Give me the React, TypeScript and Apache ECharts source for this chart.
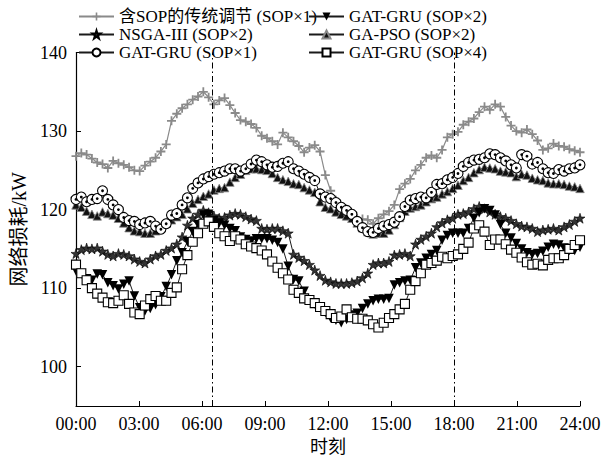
import React, { useEffect, useRef } from 'react';
import * as echarts from 'echarts';

// ---- data (96 samples over 00:00-24:00) ----
const xTickHours = [0, 3, 6, 9, 12, 15, 18, 21, 24];
const yTickValues = [100, 110, 120, 130, 140];
const dividerHours = [6.5, 18];

const seriesNames = [
  '含SOP的传统调节 (SOP×1)',
  'GAT-GRU (SOP×2)',
  'NSGA-III (SOP×2)',
  'GA-PSO (SOP×2)',
  'GAT-GRU (SOP×1)',
  'GAT-GRU (SOP×4)',
];

const traditional = [
  126.8, 127.2, 127.0, 126.5, 126.0, 125.8, 125.3, 126.2, 125.9, 125.7, 125.4, 125.0,
  124.9, 125.6, 126.1, 126.6, 127.4, 128.3, 131.3, 132.2, 132.9, 133.4, 134.0, 134.4,
  135.0, 134.3, 133.4, 133.9, 134.2, 133.3, 132.3, 131.4, 131.2, 130.9, 130.4, 129.4,
  129.1, 128.7, 128.3, 129.8, 129.2, 128.7, 128.1, 127.3, 127.9, 128.2, 127.4, 124.4,
  122.4, 121.2, 120.2, 119.6, 119.1, 118.9, 118.8, 118.7, 118.2, 118.9, 119.4, 119.8,
  120.6, 122.6, 123.3, 123.9, 125.0, 125.7, 126.6, 126.9, 126.6, 127.6, 129.2, 129.6,
  129.9, 130.8, 131.2, 131.6, 132.4, 133.1, 132.7, 133.4, 133.1, 131.8, 130.7, 130.0,
  129.8, 130.2, 129.6, 128.8, 127.6, 127.8, 128.4, 128.1, 128.0, 127.7, 127.5, 127.3,
];

const gatGru2 = [
  112.2, 111.8, 111.2, 111.0, 111.8, 111.7, 110.7, 110.3, 109.9, 110.5, 110.9, 109.0,
  107.5, 107.1, 107.4, 107.9, 108.9, 110.2, 111.7, 113.5, 114.5, 115.9, 117.2, 118.1,
  119.3, 119.4, 118.6, 118.3, 118.0, 117.6, 117.3, 116.5, 116.2, 116.0, 116.3, 116.3,
  116.3, 116.1, 115.8, 115.0, 112.8, 111.1, 110.9, 109.6, 108.5, 108.0, 107.5, 106.9,
  106.2, 105.9, 105.6, 106.0, 106.6, 106.8, 107.4, 108.0, 108.4, 108.6, 108.6, 108.7,
  110.4, 110.7, 110.9, 111.0, 112.6, 113.2, 113.8, 114.3, 114.8, 116.1, 116.7, 117.0,
  117.0, 117.0, 117.6, 118.9, 119.6, 120.1, 119.9, 119.3, 118.1, 117.0, 116.4, 115.7,
  115.0, 114.5, 114.3, 114.4, 114.7, 115.2, 115.6, 115.5, 115.1, 114.8, 114.8, 115.2,
];

const nsga3 = [
  114.4, 114.9, 115.1, 115.0, 115.1, 114.7, 114.3, 114.1, 114.4, 114.3, 114.1, 113.7,
  113.4, 113.2, 113.7, 114.1, 114.3, 114.8, 115.1, 115.6, 116.5, 118.0, 118.9, 119.4,
  119.9, 119.6, 119.2, 118.9, 119.0, 119.3, 119.5, 119.4, 119.1, 118.8, 118.6, 117.6,
  117.5, 117.6, 117.6, 117.3, 117.0, 114.3, 113.9, 113.5, 113.0, 112.3, 111.6, 111.0,
  110.8, 110.6, 110.6, 110.6, 110.7, 110.9, 111.3, 111.9, 113.0, 113.2, 113.2, 113.4,
  114.2, 114.3, 114.4, 114.1, 115.6, 116.2, 116.6, 117.0, 117.8, 118.3, 118.7, 118.9,
  119.4, 119.5, 119.7, 120.1, 120.4, 120.1, 119.7, 119.4, 119.1, 118.9, 118.6, 118.2,
  117.9, 117.8, 117.6, 117.2, 117.4, 117.5, 117.6, 117.4, 117.8, 118.1, 118.5, 118.9,
];

const gaPso = [
  120.6, 120.3, 119.8, 119.4, 119.2, 119.7, 119.5, 119.3, 118.9, 118.3, 117.7, 117.3,
  117.2, 117.0, 117.0, 117.3, 117.8, 118.3, 118.7, 119.1, 119.4, 120.1, 120.8, 121.3,
  121.7, 122.0, 122.5, 122.7, 122.8, 123.5, 124.1, 124.5, 125.0, 125.2, 125.2, 125.1,
  125.0, 124.6, 124.1, 123.8, 123.6, 123.3, 123.2, 122.8, 122.5, 122.2, 121.0, 120.3,
  120.1, 119.7, 119.4, 119.2, 118.9, 118.3, 117.7, 117.2, 116.9, 117.0, 117.0, 117.4,
  118.1, 119.0, 119.8, 120.2, 120.4, 120.6, 121.0, 121.4, 121.6, 122.0, 122.3, 122.7,
  123.1, 123.7, 124.1, 124.7, 125.1, 125.4, 125.3, 125.2, 124.9, 124.8, 124.7, 124.2,
  124.5, 124.4, 124.0, 123.8, 123.7, 123.4, 123.3, 123.3, 123.2, 123.0, 122.9, 122.7,
];

const gatGru1 = [
  121.3, 121.6, 121.0, 121.3, 121.4, 122.4, 121.3, 120.6, 120.0, 119.0, 118.6, 118.5,
  118.1, 118.3, 118.5, 117.9, 117.5, 118.2, 119.3, 119.5, 120.6, 121.5, 122.7, 123.4,
  123.9, 124.2, 124.5, 124.7, 124.9, 125.2, 125.2, 124.9, 125.2, 125.8, 126.3, 126.1,
  125.7, 125.4, 125.5, 125.9, 126.1, 125.2, 124.9, 124.5, 124.1, 123.7, 122.0, 121.6,
  121.4, 120.9, 120.3, 119.9, 119.4, 118.5, 117.7, 117.2, 117.1, 117.6, 117.9, 118.1,
  118.4, 119.1, 120.4, 121.2, 121.4, 121.6, 121.5, 122.2, 123.2, 123.3, 123.8, 124.1,
  124.6, 125.5, 126.0, 126.3, 126.4, 126.6, 127.1, 127.0, 126.6, 126.2, 125.7, 125.3,
  127.0, 126.8, 125.8, 126.0, 125.2, 124.7, 124.6, 125.1, 124.9, 125.2, 125.3, 125.7,
];

const gatGru4 = [
  113.0, 111.9, 111.0, 110.0, 109.3, 108.8, 108.2, 108.1, 108.4, 109.1, 108.0, 106.9,
  106.7, 107.8, 108.6, 109.0, 108.4, 108.4, 109.4, 110.1, 112.4, 114.2, 115.9, 117.0,
  118.2, 118.5, 117.8, 117.0, 116.6, 116.0, 116.6, 116.2, 115.6, 115.3, 115.1, 114.8,
  114.3, 113.4, 112.6, 111.9, 111.1, 109.8, 109.4, 108.7, 108.5, 108.1, 107.6, 107.1,
  106.7, 106.2, 106.4, 107.3, 106.3, 106.1, 106.1, 105.9, 105.4, 105.0, 105.6, 106.2,
  106.7, 107.3, 108.0, 109.8, 110.9, 111.9, 113.0, 113.2, 113.5, 114.0, 113.8, 114.1,
  114.3, 115.0, 115.8, 117.6, 118.0, 117.2, 115.5, 116.2, 116.2, 115.6, 114.9, 114.5,
  113.9, 113.3, 113.0, 113.1, 112.9, 113.6, 113.8, 113.8, 114.2, 115.0, 115.5, 116.1,
];

// ---- styling ----
const FONT = "'Liberation Serif', 'Times New Roman', 'Noto Sans CJK SC', serif";
const PLUS = 'path://M4,0H6V4H10V6H6V10H4V6H0V4H4Z';
const STAR =
  'path://M50,0L61.2,34.5L97.6,34.5L68.2,55.9L79.4,90.5L50,69.1L20.6,90.5L31.8,55.9L2.4,34.5L38.8,34.5Z';

const toPairs = (vals: number[]) => vals.map((v, i) => [(i * 24) / (vals.length - 1), v]);
const pad = (n: number) => (n < 10 ? '0' + n : '' + n);

export default function App() {
  const ref = useRef<HTMLDivElement>(null);

  useEffect(() => {
    if (!ref.current) return;
    const chart = echarts.init(ref.current, undefined, { renderer: 'svg' });

    const lineStyle = { color: '#1a1a1a', width: 1 };

    const series: any[] = [
      {
        name: seriesNames[0],
        type: 'line',
        data: toPairs(traditional),
        symbol: PLUS,
        symbolSize: 9,
        itemStyle: { color: '#8a8a8a' },
        lineStyle: { color: '#8a8a8a', width: 1.2 },
        z: 2,
      },
      {
        name: seriesNames[3],
        type: 'line',
        data: toPairs(gaPso),
        symbol: 'triangle',
        symbolSize: 8.5,
        itemStyle: { color: '#111', borderColor: '#888', borderWidth: 0.8 },
        lineStyle,
        z: 3,
      },
      {
        name: seriesNames[4],
        type: 'line',
        data: toPairs(gatGru1),
        symbol: 'circle',
        symbolSize: 10,
        itemStyle: { color: '#fff', borderColor: '#000', borderWidth: 1.1 },
        lineStyle,
        z: 4,
      },
      {
        name: 'dot',
        type: 'line',
        data: toPairs(gatGru1),
        symbol: 'circle',
        symbolSize: 2.8,
        itemStyle: { color: '#000' },
        lineStyle: { width: 0, opacity: 0 },
        z: 5,
        silent: true,
      },
      {
        name: seriesNames[2],
        type: 'line',
        data: toPairs(nsga3),
        symbol: STAR,
        symbolSize: 10,
        itemStyle: { color: '#333', borderColor: '#000', borderWidth: 0.6 },
        lineStyle,
        z: 6,
      },
      {
        name: seriesNames[1],
        type: 'line',
        data: toPairs(gatGru2),
        symbol: 'triangle',
        symbolRotate: 180,
        symbolSize: 9.5,
        itemStyle: { color: '#000' },
        lineStyle,
        z: 7,
      },
      {
        name: seriesNames[5],
        type: 'line',
        data: toPairs(gatGru4),
        symbol: 'rect',
        symbolSize: 9,
        itemStyle: { color: '#fff', borderColor: '#000', borderWidth: 1.1 },
        lineStyle,
        z: 8,
        markLine: {
          silent: true,
          symbol: 'none',
          label: { show: false },
          lineStyle: { color: '#000', width: 1, type: [6, 3, 1.5, 3] },
          data: dividerHours.map((h) => ({ xAxis: h })),
        },
      },
    ];

    const legendPos = [
      { left: 78, top: 8 },
      { left: 308, top: 8 },
      { left: 78, top: 26 },
      { left: 308, top: 26 },
      { left: 78, top: 44 },
      { left: 308, top: 44 },
    ];
    const legend = seriesNames.map((name, i) => ({
      data: [name],
      left: legendPos[i].left,
      top: legendPos[i].top,
      padding: 0,
      itemWidth: 35,
      itemHeight: 10,
      itemGap: 4,
      selectedMode: false,
      textStyle: { fontFamily: FONT, fontSize: 17, color: '#000' },
    }));

    chart.setOption({
      animation: false,
      backgroundColor: '#fff',
      grid: { left: 76, right: 33, top: 52.5, bottom: 55 },
      legend,
      xAxis: {
        type: 'value',
        min: 0,
        max: 24,
        interval: 3,
        name: '时刻',
        nameLocation: 'middle',
        nameGap: 31,
        nameTextStyle: { fontFamily: FONT, fontSize: 18, color: '#000' },
        axisLine: { show: true, lineStyle: { color: '#000', width: 1.2 } },
        axisTick: { show: true, inside: true, length: 5, lineStyle: { color: '#000' } },
        axisLabel: {
          fontFamily: FONT,
          fontSize: 18,
          color: '#000',
          margin: 9,
          formatter: (v: number) => (xTickHours.includes(v) ? pad(v) + ':00' : ''),
        },
        splitLine: { show: false },
      },
      yAxis: {
        type: 'value',
        min: 95,
        max: 140,
        name: '网络损耗/kW',
        nameLocation: 'middle',
        nameGap: 42,
        nameRotate: 90,
        nameTextStyle: { fontFamily: FONT, fontSize: 20, color: '#000' },
        axisLine: { show: true, lineStyle: { color: '#000', width: 1.2 } },
        axisTick: {
          show: true,
          inside: true,
          length: 5,
          lineStyle: { color: '#000' },
          customValues: yTickValues,
        },
        axisLabel: {
          fontFamily: FONT,
          fontSize: 18,
          color: '#000',
          margin: 9,
          customValues: yTickValues,
        },
        splitLine: { show: false },
      },
      series,
    });

    return () => chart.dispose();
  }, []);

  return <div ref={ref} style={{ width: 613, height: 461, position: 'absolute', left: 0, top: 0 }} />;
}
